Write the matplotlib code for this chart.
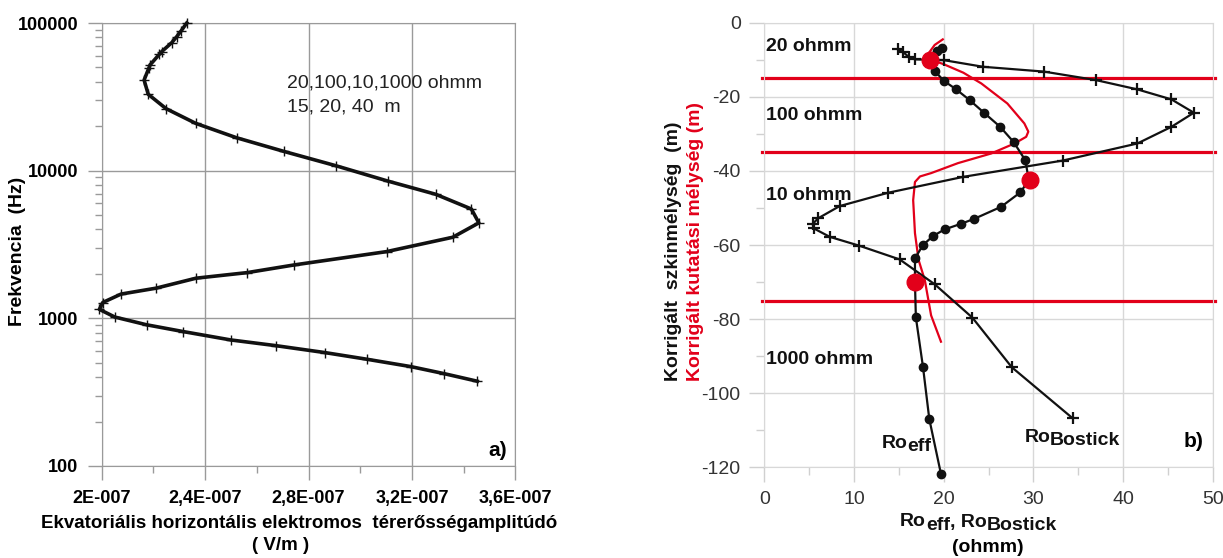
import matplotlib
matplotlib.use("Agg")
import matplotlib.pyplot as plt
from matplotlib.ticker import MultipleLocator, LogLocator, NullFormatter

plt.rcParams['font.family'] = ['Liberation Sans', 'DejaVu Sans']
plt.rcParams['axes.unicode_minus'] = False

# ---- a) amplitude vs frequency
amp_a = [2.329e-7, 2.307e-7, 2.290e-7, 2.271e-7, 2.232e-7, 2.223e-7, 2.187e-7,
         2.182e-7, 2.164e-7, 2.180e-7, 2.249e-7, 2.364e-7, 2.522e-7, 2.705e-7,
         2.906e-7, 3.106e-7, 3.292e-7, 3.430e-7, 3.459e-7, 3.358e-7, 3.102e-7,
         2.745e-7, 2.563e-7, 2.365e-7, 2.210e-7, 2.075e-7, 2.004e-7, 1.991e-7,
         2.051e-7, 2.174e-7, 2.316e-7, 2.499e-7, 2.674e-7, 2.864e-7, 3.027e-7,
         3.196e-7, 3.325e-7, 3.453e-7]
freq_a = [100000, 88300, 80700, 73600, 64000, 61400, 52000, 49300, 41100, 32900,
          26300, 20900, 16700, 13500, 10800, 8510, 6920, 5500, 4430, 3540, 2830,
          2300, 2040, 1870, 1600, 1460, 1280, 1150, 1020, 904, 813, 714, 653, 586,
          528, 471, 422, 375]
xticks_a = [2.0e-7, 2.4e-7, 2.8e-7, 3.2e-7, 3.6e-7]
xtick_labels_a = ["2E-007", "2,4E-007", "2,8E-007", "3,2E-007", "3,6E-007"]
yticks_a = [100, 1000, 10000, 100000]
ytick_labels_a = ["100", "1000", "10000", "100000"]

# ---- b) resistivity vs depth
layer_bounds = [-15, -35, -75]
bostick_ro = [14.9, 15.5, 16.1, 16.8, 20.0, 24.4, 31.2, 37.0, 41.6, 45.4, 47.9,
              45.4, 41.6, 33.3, 22.2, 13.8, 8.4, 6.0, 5.4, 5.5, 7.3, 10.6, 15.1,
              19.0, 23.2, 27.6, 34.4]
bostick_depth = [-7.2, -8.0, -9.2, -9.9, -10.1, -11.9, -13.2, -15.5, -18.0, -20.7,
                 -24.3, -28.1, -32.6, -37.2, -41.6, -45.9, -49.5, -52.8, -54.3,
                 -55.5, -57.8, -60.2, -63.9, -70.6, -79.6, -93.0, -106.8]
eff_ro = [19.8, 19.3, 18.7, 19.0, 20.0, 21.4, 22.9, 24.5, 26.3, 27.8, 29.1, 29.5,
          28.55, 26.4, 23.35, 21.9, 20.1, 18.8, 17.7, 16.8, 16.8, 16.9, 17.7, 18.4, 19.7]
eff_depth = [-6.8, -7.6, -10.3, -13.0, -15.65, -18.0, -20.9, -24.3, -28.1, -32.2,
             -37.1, -42.5, -45.8, -49.7, -53.0, -54.3, -55.8, -57.6, -60.0, -63.6,
             -70.0, -79.5, -93.0, -107.0, -121.8]
kut_ro = [19.9, 19.0, 18.4, 18.6, 20.0, 22.2, 24.2, 27.1, 29.0, 29.44, 29.2, 27.9,
          25.3, 21.6, 18.6, 17.36, 16.8, 16.6, 16.8, 17.2, 17.9, 18.6, 19.7]
kut_depth = [-4.5, -6.0, -8.0, -10.0, -11.2, -13.5, -16.4, -21.8, -27.2, -29.4,
             -30.8, -32.6, -35.3, -37.9, -40.6, -41.5, -43.0, -47.9, -56.8, -64.0,
             -69.5, -79.0, -86.1]
mark_ro = [18.5, 29.6, 16.8]
mark_depth = [-10.1, -42.5, -70.0]

W, H = 1223, 558
RED = '#e2001a'
fig = plt.figure(figsize=(W / 100, H / 100), dpi=100)


def box(l, t, r, b):
    return [l / W, 1 - b / H, (r - l) / W, (b - t) / H]


def fx(x):
    return x / W


def fy(y):
    return 1 - y / H


# ---------------- panel a
ax1 = fig.add_axes(box(101.7, 23, 515.3, 466))
ax1.plot(amp_a, freq_a, color='#111111', lw=2.6, marker='+', ms=7, mew=1.0,
         clip_on=False, zorder=3)
ax1.set_yscale('log')
ax1.set_xlim(2.0e-7, 3.6e-7)
ax1.set_ylim(100, 100000)
ax1.set_xticks(xticks_a, xtick_labels_a, fontweight='bold')
ax1.set_yticks(yticks_a, ytick_labels_a, fontweight='bold')
ax1.xaxis.set_minor_locator(MultipleLocator(0.2e-7))
ax1.yaxis.set_minor_locator(LogLocator(base=10, subs=range(2, 10)))
ax1.yaxis.set_minor_formatter(NullFormatter())
ax1.grid(True, which='major', color='#9a9a9a', lw=1)
for s in ax1.spines.values():
    s.set_color('#9a9a9a')
ax1.tick_params(which='major', direction='out', length=10, width=1,
                color='#9a9a9a', labelsize=13, pad=7)
ax1.tick_params(which='minor', direction='out', length=5, width=1, color='#9a9a9a')

fig.text(fx(286.7), fy(83.3), "20,100,10,1000 ohmm", fontsize=14, ha='left', va='center', color='#222222')
fig.text(fx(286.7), fy(106.7), "15, 20, 40  m", fontsize=14, ha='left', va='center', color='#222222')
fig.text(fx(498), fy(450), "a)", fontsize=15, fontweight='bold', ha='center', va='center')
fig.text(fx(18), fy(251.5), "Frekvencia  (Hz)", fontsize=14, fontweight='bold',
         rotation=90, ha='center', va='center')
fig.text(fx(299), fy(523), "Ekvatoriális horizontális elektromos  térerősségamplitúdó",
         fontsize=13.5, fontweight='bold', ha='center', va='center')
fig.text(fx(281), fy(546), "( V/m )", fontsize=13.5, fontweight='bold', ha='center', va='center')

# ---------------- panel b
ax2 = fig.add_axes(box(764.3, 22.7, 1212.7, 467.3))
for d in layer_bounds:
    ax2.axhline(d, xmin=-0.006, xmax=1.006, color=RED, lw=2.3, clip_on=False, zorder=2)
ax2.plot(kut_ro, kut_depth, color=RED, lw=1.6, zorder=3)
ax2.plot(bostick_ro, bostick_depth, color='#111111', lw=1.6, marker='+', ms=9,
         mew=1.6, zorder=4)
ax2.plot(eff_ro, eff_depth, color='#111111', lw=1.6, marker='o', ms=6, zorder=4,
         clip_on=False)
ax2.plot(mark_ro, mark_depth, ls='none', marker='o', color=RED, ms=12, zorder=5)
ax2.set_xlim(0, 50)
ax2.set_ylim(-120, 0)
ax2.xaxis.set_major_locator(MultipleLocator(10))
ax2.xaxis.set_minor_locator(MultipleLocator(5))
ax2.yaxis.set_major_locator(MultipleLocator(20))
ax2.yaxis.set_minor_locator(MultipleLocator(10))
ax2.grid(True, which='major', color='#d8d8d8', lw=1)
for s in ax2.spines.values():
    s.set_color('#d8d8d8')
ax2.tick_params(which='major', direction='out', length=11, width=1, color='#d0d0d0',
                labelsize=14, labelcolor='#333333', pad=6)
ax2.tick_params(which='minor', direction='out', length=6, width=1, color='#d0d0d0')

for txt, y in [("20 ohmm", 46.7), ("100 ohmm", 116), ("10 ohmm", 196), ("1000 ohmm", 360)]:
    fig.text(fx(766), fy(y), txt, fontsize=14, fontweight='bold', ha='left', va='center',
             color='#111111', zorder=6)
fig.text(fx(1193.5), fy(441.7), "b)", fontsize=15, fontweight='bold', ha='center', va='center')


def sub_text(x, y, base, sub, size=14, drop=2.5):
    t = fig.text(fx(x), fy(y), base, fontsize=size, fontweight='bold', ha='left',
                 va='center', color='#111111')
    s = ax2.annotate(sub, xy=(1, 0), xycoords=t, xytext=(0, -drop),
                     textcoords='offset points', fontsize=size, fontweight='bold',
                     ha='left', va='bottom', color='#111111', annotation_clip=False)
    return t, s


sub_text(881.7, 443, "Ro", "eff")
sub_text(1024.3, 437, "Ro", "Bostick")

t1, s1 = sub_text(900, 522, "Ro", "eff")
t2 = ax2.annotate(", Ro", xy=(1, 0), xycoords=s1, xytext=(0, 2.5), textcoords='offset points',
                  fontsize=14, fontweight='bold', ha='left', va='bottom', color='#111111',
                  annotation_clip=False)
ax2.annotate("Bostick", xy=(1, 0), xycoords=t2, xytext=(0, -2.5), textcoords='offset points',
             fontsize=14, fontweight='bold', ha='left', va='bottom', color='#111111',
             annotation_clip=False)
fig.text(fx(987.5), fy(548), "(ohmm)", fontsize=14, fontweight='bold', ha='center', va='center')

fig.text(fx(673), fy(251.5), "Korrigált  szkinmélység  (m)", fontsize=14, fontweight='bold',
         rotation=90, ha='center', va='center', color='#111111')
fig.text(fx(695), fy(241.5), "Korrigált kutatási mélység (m)", fontsize=14, fontweight='bold',
         rotation=90, ha='center', va='center', color=RED)

fig.savefig("out.png", dpi=100)
